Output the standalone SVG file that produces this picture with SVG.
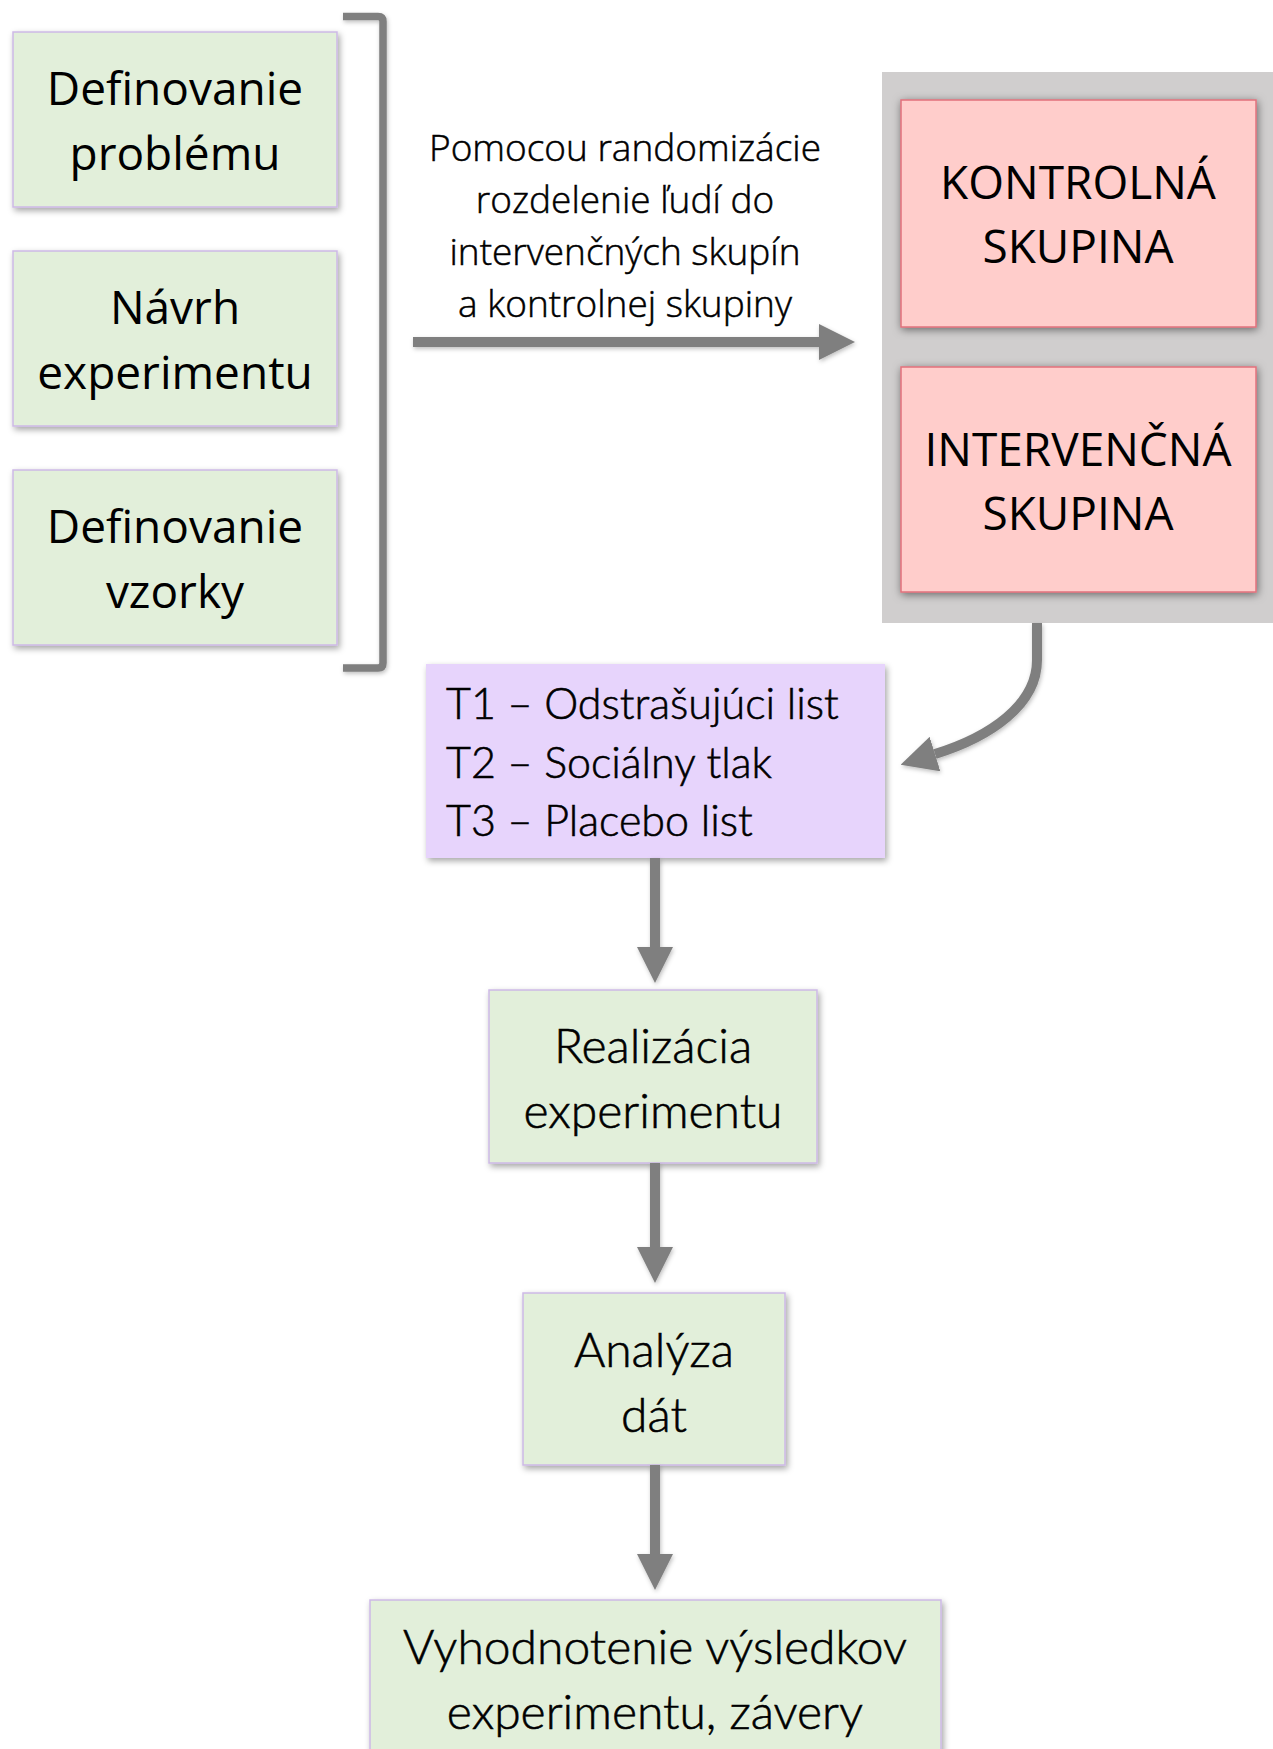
<svg xmlns="http://www.w3.org/2000/svg" width="1273" height="1749" viewBox="0 0 1273 1749">
<defs>
<style>
.green{fill:#E2EFDA;stroke:#CDB9E6;stroke-width:1.5}
.red{fill:#FFCDCB;stroke:#E2707C;stroke-width:1.5}
.purple{fill:#E7D4FC;stroke:none}
.t1{font-family:"Open Sans","Noto Sans","DejaVu Sans",sans-serif;font-size:46px;fill:#000;text-anchor:middle}
.t2{font-family:"Open Sans","Noto Sans","DejaVu Sans",sans-serif;font-size:37px;font-weight:300;fill:#000;stroke:#000;stroke-width:0.5;text-anchor:middle}
.t3{font-family:Lato,"Open Sans","Liberation Sans",sans-serif;font-size:48px;font-weight:300;fill:#000;stroke:#000;stroke-width:0.6;text-anchor:middle}
.t4{font-family:Lato,"Open Sans","Liberation Sans",sans-serif;font-size:43px;font-weight:300;fill:#000;stroke:#000;stroke-width:0.6}
.line{fill:none;stroke:#7F7F7F;stroke-width:10}
</style>
<filter id="sh" x="-10%" y="-10%" width="125%" height="130%">
<feDropShadow dx="2" dy="3" stdDeviation="3" flood-color="#000" flood-opacity="0.35"/>
</filter>
<filter id="shr" x="-10%" y="-10%" width="125%" height="130%">
<feDropShadow dx="1" dy="2" stdDeviation="4" flood-color="#000" flood-opacity="0.5"/>
</filter>
<filter id="sha" x="-20%" y="-20%" width="150%" height="150%">
<feDropShadow dx="1" dy="2" stdDeviation="2" flood-color="#000" flood-opacity="0.25"/>
</filter>
<marker id="ah" markerUnits="userSpaceOnUse" markerWidth="36" markerHeight="36" viewBox="0 0 36 36" refX="0" refY="18" orient="auto">
<path d="M0,0 L36,18 L0,36 z" fill="#7F7F7F"/>
</marker>
</defs>
<rect width="1273" height="1749" fill="#FFFFFF"/>

<g id="bracket">
<path d="M343,16.5 L378,16.5 Q383,16.5 383,21.5 L383,663 Q383,668 378,668 L343,668" fill="none" stroke="#7F7F7F" stroke-width="7.5" filter="url(#sha)"/>
</g>

<g id="n-definovanie-problemu">
<rect class="green" x="13" y="32" width="324" height="175" filter="url(#sh)"/>
<text class="t1" x="175" y="105">Definovanie</text>
<text class="t1" x="175" y="170">problému</text>
</g>
<g id="n-navrh">
<rect class="green" x="13" y="251" width="324" height="175" filter="url(#sh)"/>
<text class="t1" x="175" y="324">Návrh</text>
<text class="t1" x="175" y="389">experimentu</text>
</g>
<g id="n-definovanie-vzorky">
<rect class="green" x="13" y="470" width="324" height="175" filter="url(#sh)"/>
<text class="t1" x="175" y="543">Definovanie</text>
<text class="t1" x="175" y="608">vzorky</text>
</g>

<g id="label-randomizacia">
<text class="t2" x="625" y="161">Pomocou randomizácie</text>
<text class="t2" x="625" y="213">rozdelenie ľudí do</text>
<text class="t2" x="625" y="265">intervenčných skupín</text>
<text class="t2" x="625" y="317">a kontrolnej skupiny</text>
</g>

<g id="n-skupiny">
<rect x="882" y="72" width="391" height="551" fill="#D0CECE"/>
<g id="n-kontrolna">
<rect class="red" x="901" y="100" width="355" height="227" filter="url(#shr)"/>
<text class="t1" x="1078" y="199">KONTROLNÁ</text>
<text class="t1" x="1078" y="263">SKUPINA</text>
</g>
<g id="n-intervencna">
<rect class="red" x="901" y="367" width="355" height="225" filter="url(#shr)"/>
<text class="t1" x="1078" y="466">INTERVENČNÁ</text>
<text class="t1" x="1078" y="530">SKUPINA</text>
</g>
</g>

<g id="n-treatments">
<rect class="purple" x="426" y="664" width="459" height="194" filter="url(#sh)"/>
<text class="t4" x="446" y="719">T1 – Odstrašujúci list</text>
<text class="t4" x="446" y="778">T2 – Sociálny tlak</text>
<text class="t4" x="446" y="836">T3 – Placebo list</text>
</g>

<g id="n-realizacia">
<rect class="green" x="489" y="990" width="328" height="173" filter="url(#sh)"/>
<text class="t3" x="653" y="1063">Realizácia</text>
<text class="t3" x="653" y="1128">experimentu</text>
</g>

<g id="n-analyza">
<rect class="green" x="523" y="1293" width="262" height="172" filter="url(#sh)"/>
<text class="t3" x="654" y="1367">Analýza</text>
<text class="t3" x="654" y="1432">dát</text>
</g>

<g id="n-vyhodnotenie">
<rect class="green" x="370" y="1600" width="571" height="200" filter="url(#sh)"/>
<text class="t3" x="655" y="1664">Vyhodnotenie výsledkov</text>
<text class="t3" x="655" y="1729">experimentu, závery</text>
</g>

<g id="connectors" filter="url(#sha)">
<path class="line" d="M413,342 L819,342" marker-end="url(#ah)"/>
<path class="line" d="M1037,623 L1037,660 C1037,705 990,737 935,754" marker-end="url(#ah)"/>
<path class="line" d="M655,858 L655,947" marker-end="url(#ah)"/>
<path class="line" d="M655,1163 L655,1247" marker-end="url(#ah)"/>
<path class="line" d="M655,1465 L655,1554" marker-end="url(#ah)"/>
</g>
</svg>
